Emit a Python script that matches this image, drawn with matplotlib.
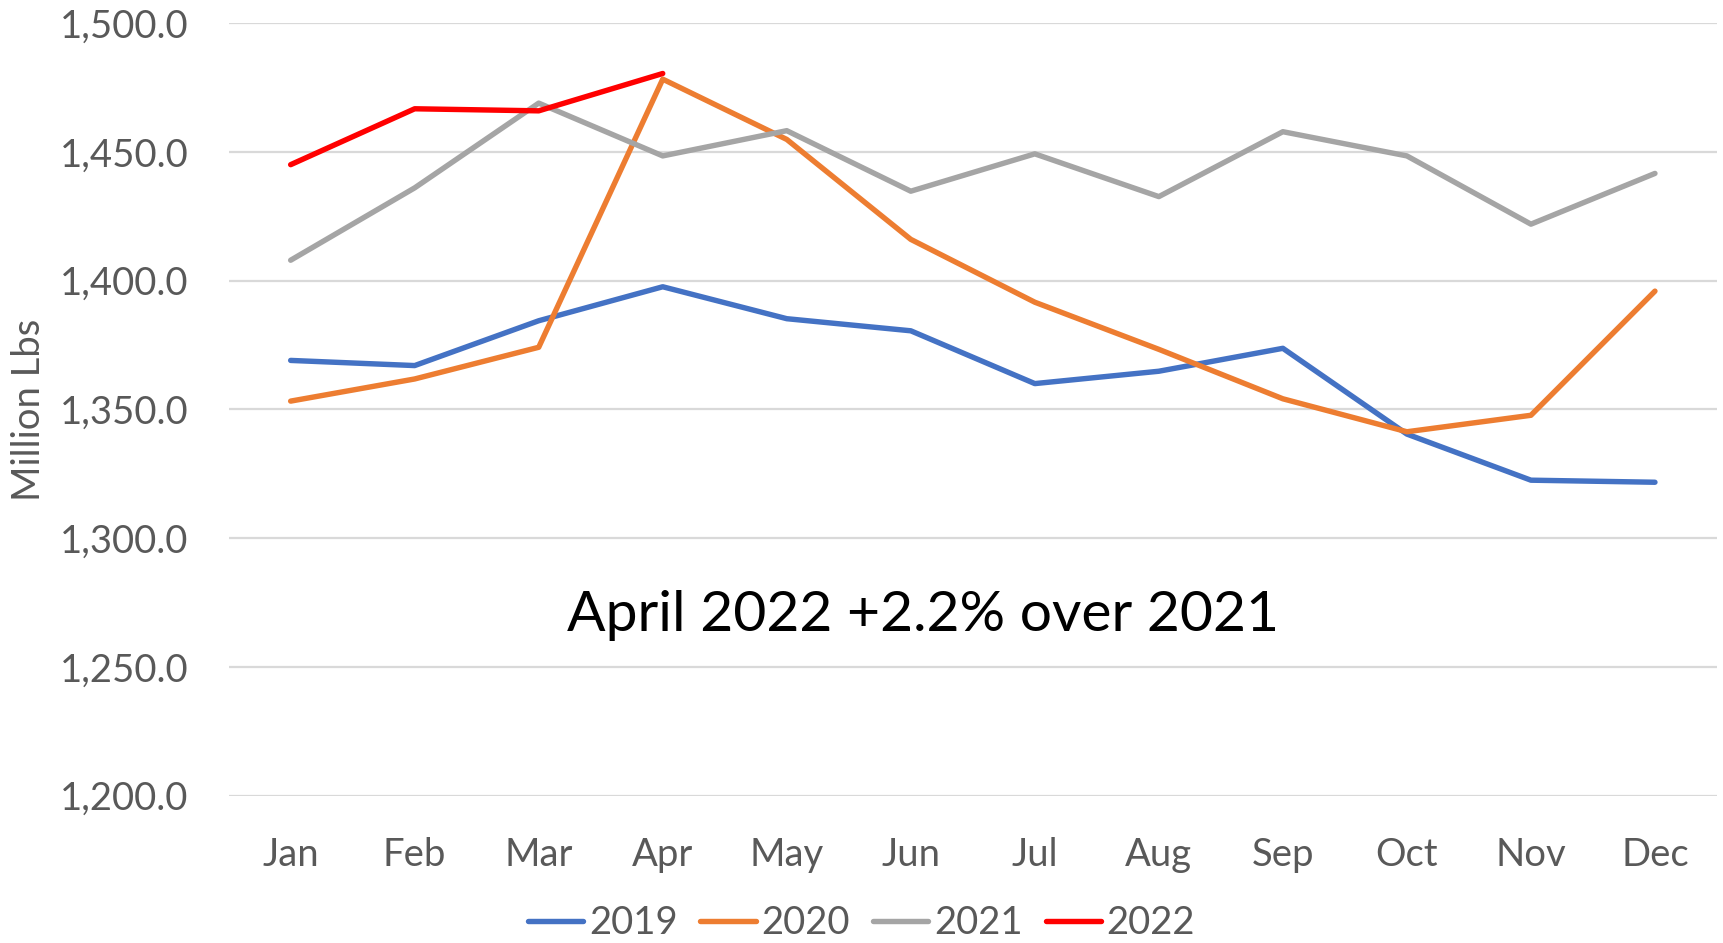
import numpy as np
import matplotlib.pyplot as plt
from matplotlib.ticker import FuncFormatter

plt.switch_backend('Agg')
plt.rcParams['font.family'] = ['Lato', 'DejaVu Sans']

months = ['Jan', 'Feb', 'Mar', 'Apr', 'May', 'Jun',
          'Jul', 'Aug', 'Sep', 'Oct', 'Nov', 'Dec']
vals_2019 = [1369.0, 1367.0, 1384.4, 1397.6, 1385.2, 1380.5,
             1360.0, 1364.8, 1373.7, 1340.4, 1322.5, 1321.7]
vals_2020 = [1353.2, 1361.8, 1374.1, 1478.2, 1454.8, 1416.0,
             1391.6, 1373.3, 1354.1, 1341.3, 1347.7, 1395.9]
vals_2021 = [1407.9, 1436.0, 1468.9, 1448.4, 1458.2, 1434.7,
             1449.2, 1432.6, 1457.8, 1448.4, 1421.9, 1441.6]
vals_2022 = [1445.0, 1466.7, 1465.9, 1480.4]
years = ['2019', '2020', '2021', '2022']
series = [vals_2019, vals_2020, vals_2021, vals_2022]
colors = ['#4472C4', '#ED7D31', '#A5A5A5', '#FF0000']
note = 'April 2022 +2.2% over 2021'

text_grey = '#595959'
fs = 27.5

fig = plt.figure(figsize=(17.23, 9.43), dpi=100)
ax = fig.add_axes([0.1327, 0.1562, 0.8638, 0.8194])

x = np.arange(len(months))
for yr, vals, c in zip(years, series, colors):
    ax.plot(x[:len(vals)], vals, color=c, lw=3.9, label=yr,
            solid_joinstyle='round', solid_capstyle='round', zorder=3)

ax.set_xlim(-0.5, 11.5)
ax.set_ylim(1200, 1500)
ax.set_yticks(np.arange(1200, 1501, 50))
ax.yaxis.set_major_formatter(FuncFormatter(lambda v, p: f'{v:,.1f}'))
ax.set_xticks(x)
ax.set_xticklabels(months)
ax.grid(axis='y', color='#D9D9D9', lw=1.6, zorder=0)
for s in ax.spines.values():
    s.set_visible(False)
ax.tick_params(axis='both', length=0, labelsize=fs, colors=text_grey)
ax.tick_params(axis='y', pad=29)
ax.tick_params(axis='x', pad=30)

fig.text(0.017, 0.565, 'Million Lbs', rotation=90, ha='center', va='center',
         fontsize=fs, color=text_grey)

ax.text(5.1, 1270, note, ha='center', va='center', fontsize=41, color='black')

leg = fig.legend(loc='center', bbox_to_anchor=(0.5, 0.021), ncol=4,
                 frameon=False, fontsize=fs, handlelength=1.45,
                 handletextpad=0.15, columnspacing=0.6)
for t in leg.get_texts():
    t.set_color(text_grey)

plt.savefig('out.png', dpi=100)
